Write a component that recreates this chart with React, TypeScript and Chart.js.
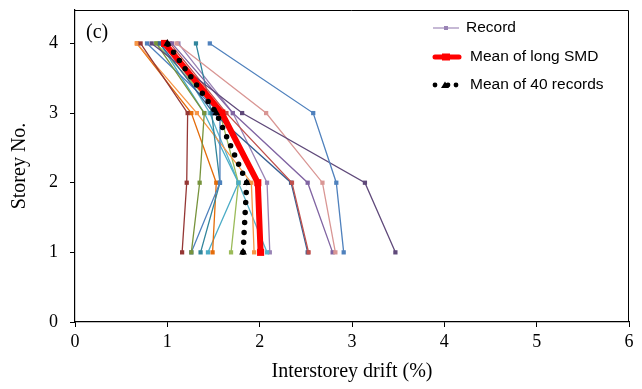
import React, { useEffect, useRef } from "react";
import { Chart, registerables } from "chart.js";

Chart.register(...registerables);

// Storey levels (y) and interstorey drift (%) per record, listed storey 1 → 4
const storeys = [1, 2, 3, 4];

const recordDrifts: number[][] = [
  [2.91, 2.83, 2.58, 1.46],
  [3.47, 3.14, 1.81, 0.83],
  [2.82, 2.68, 2.07, 1.1],
  [2.79, 2.52, 1.71, 1.05],
  [2.53, 2.35, 1.64, 1.03],
  [2.52, 2.34, 1.5, 0.92],
  [1.16, 1.21, 1.22, 0.71],
  [1.26, 1.35, 1.4, 0.88],
  [1.26, 1.57, 1.57, 0.78],
  [1.36, 1.57, 1.48, 1.31],
  [1.94, 1.91, 1.32, 0.67],
  [1.49, 1.53, 1.26, 0.67],
  [1.44, 1.77, 1.4, 0.92],
  [1.69, 1.77, 1.57, 0.88],
  [2.08, 1.77, 1.46, 1.0],
  [2.11, 2.08, 1.71, 1.12],
];

const recordColors = [
  "#4F81BD",
  "#5F497A",
  "#D99694",
  "#8064A2",
  "#C0504D",
  "#376092",
  "#953735",
  "#77933C",
  "#4F81BD",
  "#31859C",
  "#F79646",
  "#E46C0A",
  "#4BACC6",
  "#9BBB59",
  "#5BB5CC",
  "#9983B5",
];

const meanLongSMD = [2.01, 1.98, 1.59, 0.97];
const meanAllRecords = [1.82, 1.86, 1.53, 1.0];

const xTicks = [0, 1, 2, 3, 4, 5, 6];
const yTicks = [0, 1, 2, 3, 4];

const legendLabels = ["Record", "Mean of long SMD", "Mean of 40 records"];

const serif = "'Liberation Serif', 'Times New Roman', serif";

const toPoints = (drifts: number[]) =>
  drifts.map((d, i) => ({ x: d, y: storeys[i] }));

const frameAndLabels = {
  id: "frameAndLabels",
  afterDraw(chart: any) {
    const { ctx, chartArea } = chart;
    ctx.save();
    // Closed plot frame
    ctx.strokeStyle = "#000";
    ctx.lineWidth = 1;
    ctx.beginPath();
    ctx.moveTo(chartArea.left, chartArea.top + 0.5);
    ctx.lineTo(chartArea.right - 0.5, chartArea.top + 0.5);
    ctx.lineTo(chartArea.right - 0.5, chartArea.bottom);
    ctx.stroke();

    // Panel tag
    ctx.fillStyle = "#000";
    ctx.font = `20px ${serif}`;
    ctx.textBaseline = "middle";
    ctx.textAlign = "left";
    ctx.fillText("(c)", 86, 33);

    // Legend
    const sx0 = 433;
    const sx1 = 459;
    const rows = [28, 57, 85];
    ctx.font = "15.5px 'Liberation Sans', Arial, sans-serif";

    // Record sample
    ctx.strokeStyle = "#B3A2C7";
    ctx.lineWidth = 1.5;
    ctx.beginPath();
    ctx.moveTo(sx0, rows[0]);
    ctx.lineTo(sx1, rows[0]);
    ctx.stroke();
    ctx.fillStyle = "#9983B5";
    ctx.fillRect((sx0 + sx1) / 2 - 2, rows[0] - 2, 4, 4);

    // Long SMD mean sample
    ctx.strokeStyle = "#FF0000";
    ctx.lineWidth = 5;
    ctx.lineCap = "round";
    ctx.beginPath();
    ctx.moveTo(sx0 + 2, rows[1]);
    ctx.lineTo(sx1, rows[1]);
    ctx.stroke();
    ctx.fillStyle = "#FF0000";
    ctx.fillRect((sx0 + sx1) / 2 - 4, rows[1] - 3.5, 8, 7);

    // 40-record mean sample
    ctx.fillStyle = "#000";
    [sx0 + 2, sx1 - 3].forEach((x) => {
      ctx.beginPath();
      ctx.arc(x, rows[2], 2.4, 0, Math.PI * 2);
      ctx.fill();
    });
    const cx = (sx0 + sx1) / 2 - 1;
    ctx.beginPath();
    ctx.moveTo(cx, rows[2] - 3.5);
    ctx.lineTo(cx + 4, rows[2] + 3);
    ctx.lineTo(cx - 4, rows[2] + 3);
    ctx.closePath();
    ctx.fill();
    ctx.beginPath();
    ctx.arc(cx + 3, rows[2], 2.4, 0, Math.PI * 2);
    ctx.fill();

    ctx.fillStyle = "#000";
    ctx.fillText(legendLabels[0], 466, rows[0]);
    ctx.fillText(legendLabels[1], 470, rows[1]);
    ctx.fillText(legendLabels[2], 470, rows[2]);
    ctx.restore();
  },
};

export default function App() {
  const canvasRef = useRef<HTMLCanvasElement>(null);

  useEffect(() => {
    if (!canvasRef.current) return;

    const recordSets = recordDrifts.map((drifts, i) => ({
      label: `Record ${i + 1}`,
      data: toPoints(drifts),
      showLine: true,
      borderColor: recordColors[i],
      backgroundColor: recordColors[i],
      borderWidth: 1.3,
      pointStyle: "rect" as const,
      pointRadius: 3,
      pointBorderWidth: 0,
      order: 2,
    }));

    const chart = new Chart(canvasRef.current, {
      type: "scatter",
      data: {
        datasets: [
          {
            label: legendLabels[2],
            data: toPoints(meanAllRecords),
            showLine: true,
            borderColor: "#000",
            backgroundColor: "#000",
            borderWidth: 5.5,
            borderDash: [0, 10],
            borderCapStyle: "round",
            pointStyle: "triangle",
            pointRadius: 4.5,
            pointBorderWidth: 0,
            order: 0,
          },
          {
            label: legendLabels[1],
            data: toPoints(meanLongSMD),
            showLine: true,
            borderColor: "#FF0000",
            backgroundColor: "#FF0000",
            borderWidth: 6,
            pointStyle: "rect",
            pointRadius: 5,
            pointBorderWidth: 0,
            order: 1,
          },
          ...recordSets,
        ],
      },
      options: {
        responsive: false,
        animation: false,
        layout: { padding: { top: 0, right: 13, left: 0, bottom: 0 } },
        plugins: {
          legend: { display: false },
          tooltip: { enabled: false },
        },
        scales: {
          x: {
            type: "linear",
            min: 0,
            max: 6,
            afterFit: (s: any) => {
              s.height = 67;
            },
            afterBuildTicks: (s: any) => {
              s.ticks = xTicks.map((v) => ({ value: v }));
            },
            grid: {
              drawOnChartArea: false,
              drawTicks: true,
              tickLength: 5,
              color: "#000",
            },
            border: { display: true, color: "#000", width: 1.2 },
            ticks: {
              color: "#000",
              padding: 4,
              maxRotation: 0,
              font: { family: serif, size: 18 },
            },
            title: {
              display: true,
              text: "Interstorey drift (%)",
              color: "#000",
              padding: { top: 0, bottom: 5 },
              font: { family: serif, size: 20 },
            },
          },
          y: {
            type: "linear",
            min: 0,
            max: 4.48,
            afterFit: (s: any) => {
              s.width = 75;
              s.paddingTop = 10;
            },
            afterBuildTicks: (s: any) => {
              s.ticks = yTicks.map((v) => ({ value: v }));
            },
            grid: {
              drawOnChartArea: false,
              drawTicks: true,
              tickLength: 5,
              color: "#000",
            },
            border: { display: true, color: "#000", width: 1.2 },
            ticks: {
              color: "#000",
              padding: 12,
              font: { family: serif, size: 18 },
            },
            title: {
              display: true,
              text: "Storey No.",
              color: "#000",
              padding: { top: 8, bottom: 0 },
              font: { family: serif, size: 20 },
            },
          },
        },
      },
      plugins: [frameAndLabels],
    });

    return () => chart.destroy();
  }, []);

  return (
    <div
      style={{
        position: "fixed",
        left: 0,
        top: 0,
        width: 642,
        height: 389,
        background: "#fff",
      }}
    >
      <canvas ref={canvasRef} width={642} height={389} />
    </div>
  );
}
